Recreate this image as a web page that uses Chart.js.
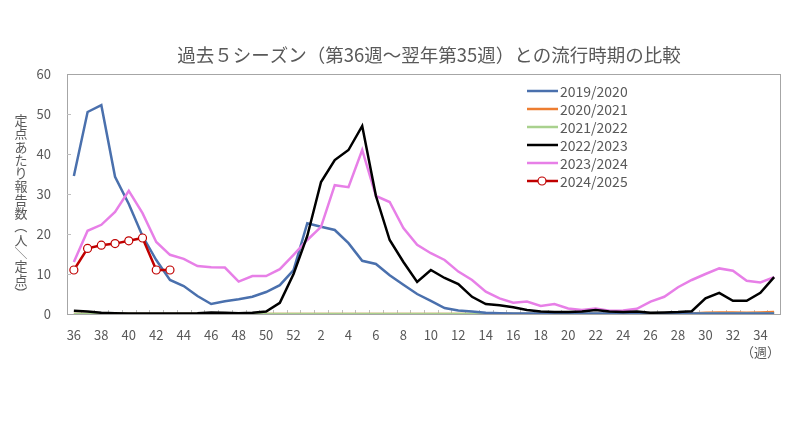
<!DOCTYPE html>
<html>
<head>
<meta charset="utf-8">
<script src="https://cdn.jsdelivr.net/npm/chart.js@4.4.1/dist/chart.umd.min.js"></script>
<style>
  body { margin: 0; background: #fff; }
</style>
</head>
<body>
<canvas id="chart" width="800" height="443"></canvas>
<script>
// ---- data (week 36 -> week 35 of the next year) ----
const weeks = [36, 37, 38, 39, 40, 41, 42, 43, 44, 45, 46, 47, 48, 49, 50, 51, 52,
  1, 2, 3, 4, 5, 6, 7, 8, 9, 10, 11, 12, 13, 14, 15, 16, 17, 18, 19, 20,
  21, 22, 23, 24, 25, 26, 27, 28, 29, 30, 31, 32, 33, 34, 35];

const s2019 = [34.5, 50.5, 52.2, 34.3, 27.5, 19.5, 13.5, 8.5, 7, 4.5, 2.5, 3.2, 3.7, 4.3, 5.5, 7.2, 11,
  22.7, 21.8, 21, 17.7, 13.3, 12.5, 9.7, 7.3, 5, 3.3, 1.5, 0.9, 0.6, 0.3, 0.2, 0.1, 0.1, 0.1, 0.1, 0.1,
  0.1, 0.1, 0.1, 0.1, 0.1, 0.1, 0.1, 0.1, 0.1, 0.1, 0.1, 0.1, 0.1, 0.1, 0.1];
const s2020 = [0, 0, 0, 0, 0, 0, 0, 0, 0, 0, 0, 0, 0, 0, 0, 0, 0,
  0, 0, 0, 0, 0, 0, 0, 0, 0, 0, 0, 0, 0, 0, 0, 0, 0, 0, 0, 0,
  0, 0, 0, 0, 0, 0, 0, 0, 0.1, 0.3, 0.4, 0.4, 0.3, 0.4, 0.5];
const s2021 = [0, 0, 0, 0, 0, 0, 0, 0, 0, 0, 0, 0, 0, 0, 0, 0, 0,
  0, 0, 0, 0, 0, 0, 0, 0, 0, 0, 0, 0, 0, 0, 0, 0, 0, 0, 0, 0,
  0, 0, 0, 0, 0, 0, 0, 0, 0, 0.1, 0.1, 0.1, 0.1, 0.1, 0.1];
const s2022 = [0.8, 0.6, 0.3, 0.2, 0.1, 0.1, 0.1, 0.1, 0.1, 0.2, 0.4, 0.3, 0.2, 0.3, 0.6, 2.8, 10,
  19.5, 33, 38.5, 41, 47, 29.5, 18.5, 13, 8, 11, 9, 7.5, 4.3, 2.5, 2.2, 1.7, 1.0, 0.6, 0.5, 0.5,
  0.6, 1.0, 0.6, 0.5, 0.6, 0.3, 0.4, 0.5, 0.7, 3.9, 5.3, 3.3, 3.3, 5.3, 9.2];
const s2023 = [13, 20.8, 22.3, 25.5, 30.8, 25.2, 18, 14.8, 13.8, 12, 11.7, 11.6, 8.1, 9.5, 9.5, 11.2, 14.8,
  18.5, 21.8, 32.2, 31.7, 41, 29.5, 28, 21.5, 17.3, 15.2, 13.5, 10.6, 8.5, 5.6, 3.9, 2.8, 3.1, 2.0, 2.5, 1.4,
  1.0, 1.4, 0.8, 0.9, 1.3, 3.1, 4.3, 6.7, 8.5, 10, 11.4, 10.8, 8.3, 7.9, 9.2];
const s2024 = [11, 16.4, 17.2, 17.6, 18.3, 19, 11, 11];

const seasons = ['2019/2020', '2020/2021', '2021/2022', '2022/2023', '2023/2024', '2024/2025'];
const colors = ['#4a70ad', '#ed7d31', '#a9d18e', '#000000', '#e77fe7', '#c00000'];

const titleText = '過去５シーズン（第36週〜翌年第35週）との流行時期の比較';
const yTitle = '定点あたり報告数（人／定点）';
const FONT = "'Noto Sans CJK JP', 'Noto Sans', sans-serif";
const GRAY = '#595959';

// frame, inward ticks and the extra texts
const framePlugin = {
  id: 'frame',
  beforeDatasetsDraw(chart) {
    const { ctx, chartArea: a, scales } = chart;
    ctx.save();
    ctx.strokeStyle = '#a6a6a6';
    ctx.lineWidth = 1;
    ctx.strokeRect(a.left + 0.5, a.top + 0.5, a.right - a.left - 1, a.bottom - a.top);
    ctx.strokeStyle = '#bfbfbf';
    ctx.beginPath();
    for (let v = 10; v < 60; v += 10) {
      const y = Math.round(scales.y.getPixelForValue(v)) + 0.5;
      ctx.moveTo(a.left, y); ctx.lineTo(a.left + 4, y);
    }
    const step = (a.right - a.left) / weeks.length;
    for (let i = 1; i < weeks.length; i++) {
      const x = Math.round(a.left + i * step) + 0.5;
      ctx.moveTo(x, a.bottom); ctx.lineTo(x, a.bottom - 4);
    }
    ctx.stroke();
    ctx.restore();
  },
  afterDraw(chart) {
    const { ctx, scales } = chart;
    ctx.save();
    ctx.fillStyle = GRAY;
    ctx.textBaseline = 'middle';
    // title
    ctx.font = '18.5px ' + FONT;
    ctx.textAlign = 'center';
    ctx.fillText(titleText, 429, 55);
    // vertical axis title, one glyph per row (brackets turned)
    ctx.font = '13px ' + FONT;
    [...yTitle].forEach((ch, i) => {
      const y = 120 + i * 13.3;
      if ('（）／'.includes(ch)) {
        ctx.save();
        ctx.translate(21, y);
        ctx.rotate(Math.PI / 2);
        ctx.fillText(ch, 0, 0);
        ctx.restore();
      } else {
        ctx.fillText(ch, 21, y);
      }
    });
    // unit under last tick
    ctx.fillText('（週）', scales.x.getPixelForValue(weeks.length - 2), 352);
    // legend
    ctx.textAlign = 'left';
    ctx.font = '14px ' + FONT;
    seasons.forEach((name, i) => {
      const y = 91 + i * 18;
      ctx.strokeStyle = colors[i];
      ctx.lineWidth = 2.5;
      ctx.beginPath(); ctx.moveTo(527, y); ctx.lineTo(558, y); ctx.stroke();
      if (i === 5) {
        ctx.beginPath(); ctx.arc(542, y, 4, 0, Math.PI * 2);
        ctx.fillStyle = '#fff'; ctx.fill();
        ctx.lineWidth = 1.2; ctx.stroke();
      }
      ctx.fillStyle = GRAY;
      ctx.fillText(name, 560, y + 1);
    });
    ctx.restore();
  }
};

const series = [s2019, s2020, s2021, s2022, s2023, s2024];
const drawOrder = [3, 5, 4, 1, 2, 0];

new Chart(document.getElementById('chart'), {
  type: 'line',
  data: {
    labels: weeks.map(String),
    datasets: series.map((d, i) => ({
      label: seasons[i],
      data: d,
      borderColor: colors[i],
      borderWidth: 2.5,
      tension: 0,
      order: drawOrder[i],
      pointRadius: i === 5 ? 4 : 0,
      pointBackgroundColor: '#fff',
      pointBorderColor: colors[i],
      pointBorderWidth: 1.2
    }))
  },
  options: {
    responsive: false,
    animation: false,
    devicePixelRatio: 1,
    layout: { padding: { top: 74, right: 19, left: 0, bottom: 0 } },
    plugins: { legend: { display: false }, title: { display: false }, tooltip: { enabled: false } },
    scales: {
      x: {
        offset: true,
        grid: { display: false, drawTicks: false },
        border: { display: false },
        ticks: {
          autoSkip: false, maxRotation: 0, padding: 13,
          color: GRAY, font: { size: 13, family: FONT },
          callback: (v, i) => (i % 2 === 0 ? weeks[i] : '')
        },
        afterFit: s => { s.height = 129; }
      },
      y: {
        min: 0, max: 60,
        grid: { display: false, drawTicks: false },
        border: { display: false },
        ticks: { stepSize: 10, padding: 16, color: GRAY, font: { size: 13, family: FONT } },
        afterFit: s => { s.width = 67; }
      }
    }
  },
  plugins: [framePlugin]
});
</script>
</body>
</html>
